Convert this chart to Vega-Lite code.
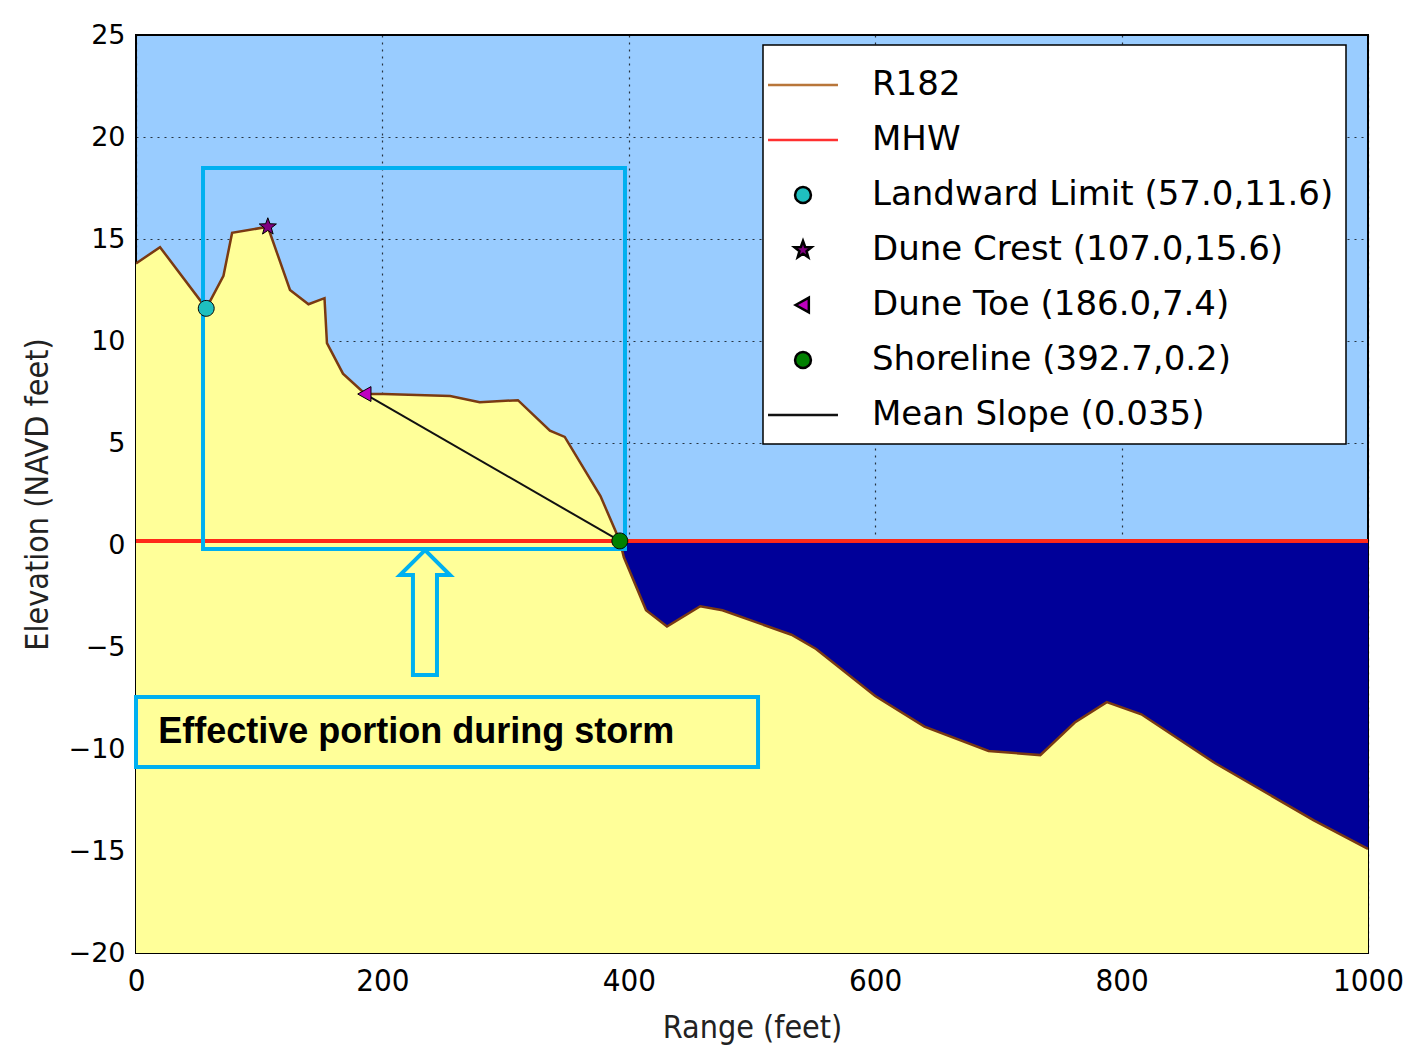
{
  "$schema": "https://vega.github.io/schema/vega-lite/v6.json",
  "width": 1232,
  "height": 918,
  "autosize": {"type": "none"},
  "padding": {"left": 136, "top": 35, "right": 58, "bottom": 94},
  "background": "#FFFFFF",
  "datasets": {
    "profile": [
      {"range": 0, "elev": 13.8},
      {"range": 19.5, "elev": 14.6},
      {"range": 57, "elev": 11.6},
      {"range": 71, "elev": 13.2},
      {"range": 78, "elev": 15.3},
      {"range": 107, "elev": 15.6},
      {"range": 125, "elev": 12.5},
      {"range": 140, "elev": 11.8},
      {"range": 153, "elev": 12.1},
      {"range": 155, "elev": 9.9},
      {"range": 168, "elev": 8.4},
      {"range": 186, "elev": 7.4},
      {"range": 201, "elev": 7.4},
      {"range": 255, "elev": 7.3},
      {"range": 279, "elev": 7.0},
      {"range": 310, "elev": 7.1},
      {"range": 336, "elev": 5.6},
      {"range": 348, "elev": 5.3},
      {"range": 377, "elev": 2.4},
      {"range": 392.7, "elev": 0.2},
      {"range": 396, "elev": -0.6},
      {"range": 414, "elev": -3.2},
      {"range": 431, "elev": -4.0},
      {"range": 458, "elev": -3.0},
      {"range": 476, "elev": -3.2},
      {"range": 532, "elev": -4.4},
      {"range": 552, "elev": -5.1},
      {"range": 600, "elev": -7.4},
      {"range": 640, "elev": -8.9},
      {"range": 692, "elev": -10.1},
      {"range": 734, "elev": -10.3},
      {"range": 762, "elev": -8.7},
      {"range": 788, "elev": -7.7},
      {"range": 816, "elev": -8.3},
      {"range": 876, "elev": -10.7},
      {"range": 956, "elev": -13.5},
      {"range": 1000, "elev": -14.9}
    ],
    "features": [
      {"label": "Landward Limit (57.0,11.6)", "range": 57.0, "elev": 11.6},
      {"label": "Dune Crest (107.0,15.6)", "range": 107.0, "elev": 15.6},
      {"label": "Dune Toe (186.0,7.4)", "range": 186.0, "elev": 7.4},
      {"label": "Shoreline (392.7,0.2)", "range": 392.7, "elev": 0.2}
    ],
    "slope": [
      {"range": 186.0, "elev": 7.4},
      {"range": 392.7, "elev": 0.2}
    ],
    "arrow": [
      {"i": 0, "range": 234.6, "elev": -0.25},
      {"i": 1, "range": 254.9, "elev": -1.47},
      {"i": 2, "range": 244.3, "elev": -1.47},
      {"i": 3, "range": 244.3, "elev": -6.37},
      {"i": 4, "range": 224.8, "elev": -6.37},
      {"i": 5, "range": 224.8, "elev": -1.47},
      {"i": 6, "range": 214.3, "elev": -1.47},
      {"i": 7, "range": 234.6, "elev": -0.25}
    ],
    "boxes": [
      {"x1": 54.4, "x2": 396.9, "y1": 18.48, "y2": -0.2},
      {"x1": 0, "x2": 504.9, "y1": -7.45, "y2": -10.88}
    ],
    "note": [
      {"range": 18, "elev": -9.15, "text": "Effective portion during storm"}
    ]
  },
  "config": {
    "view": {"fill": "#99CCFF", "stroke": "#000000", "strokeWidth": 2},
    "axis": {
      "zindex": 1,
      "grid": true,
      "gridColor": "#000000",
      "gridDash": [2, 5],
      "gridWidth": 1.2,
      "gridOpacity": 0.75,
      "domain": false,
      "ticks": false,
      "labelColor": "#000000",
      "titleColor": "#222222",
      "titleFontWeight": "normal"
    },
    "legend": {
      "orient": "none",
      "legendX": 627,
      "legendY": 10,
      "title": null,
      "fillColor": "#FFFFFF",
      "strokeColor": "#000000",
      "strokeWidth": 1.5,
      "padding": 12,
      "labelFont": "DejaVu Sans",
      "labelFontSize": 34,
      "labelColor": "#000000",
      "labelLimit": 800,
      "labelOffset": 41,
      "rowPadding": 10,
      "symbolSize": 2809,
      "symbolStrokeWidth": 2.5
    }
  },
  "encoding": {
    "x": {
      "field": "range",
      "type": "quantitative",
      "scale": {"domain": [0, 1000], "nice": false, "zero": false},
      "axis": {
        "values": [0, 200, 400, 600, 800, 1000],
        "format": "d",
        "title": "Range (feet)",
        "labelFont": "DejaVu Sans Condensed",
        "labelFontSize": 31,
        "labelPadding": 13,
        "titleFont": "DejaVu Sans Condensed",
        "titleFontSize": 32,
        "titlePadding": 16,
        "labelFlush": false
      }
    },
    "y": {
      "field": "elev",
      "type": "quantitative",
      "scale": {"domain": [-20, 25], "nice": false, "zero": false},
      "axis": {
        "values": [-20, -15, -10, -5, 0, 5, 10, 15, 20, 25],
        "title": "Elevation (NAVD feet)",
        "labelFont": "DejaVu Sans",
        "labelFontSize": 27,
        "labelPadding": 11,
        "titleFont": "DejaVu Sans Condensed",
        "titleFontSize": 32,
        "titlePadding": 14,
        "labelFlush": false
      }
    }
  },
  "layer": [
    {
      "data": {"name": "profile"},
      "mark": {"type": "area", "color": "#FFFF99", "clip": true},
      "encoding": {"y2": {"datum": -20}}
    },
    {
      "data": {"name": "profile"},
      "transform": [{"filter": "datum.range >= 392.7"}],
      "mark": {"type": "area", "color": "#000099", "clip": true},
      "encoding": {"y2": {"datum": 0.2}}
    },
    {
      "data": {"name": "profile"},
      "mark": {"type": "rule", "color": "#FF2A1A", "strokeWidth": 2.5},
      "encoding": {"x": null, "y": {"datum": 0.2}}
    },
    {
      "data": {"name": "profile"},
      "mark": {"type": "line", "color": "#7A3A12", "strokeWidth": 2.5, "clip": true},
      "encoding": {}
    },
    {
      "data": {"name": "slope"},
      "mark": {"type": "line", "color": "#111111", "strokeWidth": 2},
      "encoding": {}
    },
    {
      "data": {"name": "boxes"},
      "mark": {"type": "rect", "fill": null, "fillOpacity": 0, "stroke": "#00B0F0", "strokeWidth": 4},
      "encoding": {
        "x": {"field": "x1", "type": "quantitative"},
        "x2": {"field": "x2"},
        "y": {"field": "y1", "type": "quantitative"},
        "y2": {"field": "y2"}
      }
    },
    {
      "data": {"name": "arrow"},
      "mark": {"type": "line", "color": "#00B0F0", "strokeWidth": 4, "strokeJoin": "miter"},
      "encoding": {"order": {"field": "i", "type": "quantitative"}}
    },
    {
      "data": {"name": "note"},
      "mark": {"type": "text", "align": "left", "baseline": "middle", "font": "Liberation Sans", "fontWeight": "bold", "fontSize": 36, "color": "#000000"},
      "encoding": {"text": {"field": "text"}}
    },
    {
      "data": {"name": "features"},
      "mark": {"type": "point", "filled": true, "opacity": 1, "strokeWidth": 1, "size": 2809},
      "encoding": {
        "shape": {
          "field": "label", "type": "nominal",
          "scale": {
            "domain": ["R182", "MHW", "Landward Limit (57.0,11.6)", "Dune Crest (107.0,15.6)", "Dune Toe (186.0,7.4)", "Shoreline (392.7,0.2)", "Mean Slope (0.035)"],
            "range": [
              "M-1.32,0L1.32,0",
              "M-1.32,0L1.32,0",
              "M0.3,0A0.3,0.3,0,1,1,-0.3,0A0.3,0.3,0,1,1,0.3,0Z",
              "M0,-0.34L0.082,-0.113L0.323,-0.105L0.133,0.043L0.2,0.275L0,0.14L-0.2,0.275L-0.133,0.043L-0.323,-0.105L-0.082,-0.113Z",
              "M-0.28,0L0.22,-0.28L0.22,0.28Z",
              "M0.3,0A0.3,0.3,0,1,1,-0.3,0A0.3,0.3,0,1,1,0.3,0Z",
              "M-1.32,0L1.32,0"
            ]
          }
        },
        "fill": {
          "field": "label", "type": "nominal",
          "scale": {
            "domain": ["R182", "MHW", "Landward Limit (57.0,11.6)", "Dune Crest (107.0,15.6)", "Dune Toe (186.0,7.4)", "Shoreline (392.7,0.2)", "Mean Slope (0.035)"],
            "range": ["transparent", "transparent", "#1FBFBF", "#800080", "#BF00BF", "#008000", "transparent"]
          }
        },
        "stroke": {
          "field": "label", "type": "nominal",
          "scale": {
            "domain": ["R182", "MHW", "Landward Limit (57.0,11.6)", "Dune Crest (107.0,15.6)", "Dune Toe (186.0,7.4)", "Shoreline (392.7,0.2)", "Mean Slope (0.035)"],
            "range": ["#B8763A", "#FF3030", "#000000", "#000000", "#000000", "#000000", "#111111"]
          }
        }
      }
    }
  ]
}
